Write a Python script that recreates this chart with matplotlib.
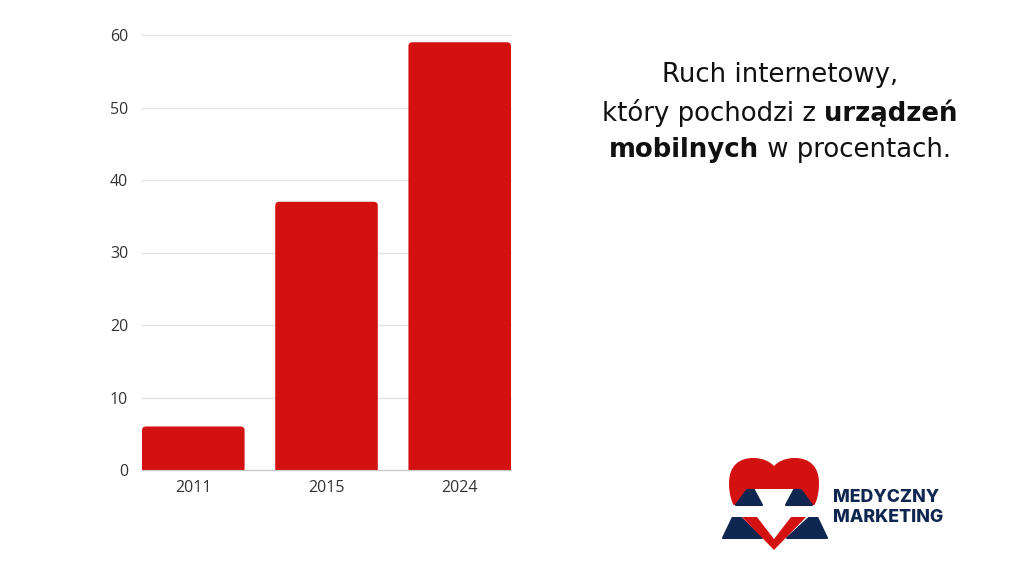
import matplotlib
matplotlib.use("Agg")
import matplotlib.pyplot as plt
from matplotlib.patches import FancyBboxPatch, PathPatch, Polygon, Rectangle
from matplotlib.path import Path
import matplotlib.transforms as mtransforms

# data
years = ["2011", "2015", "2024"]
share = [6, 37, 59]
yticks = [0, 10, 20, 30, 40, 50, 60]

RED = "#d31111"
NAVY = "#0f2650"

fig = plt.figure(figsize=(10.24, 5.76), dpi=100)
W, H = 1024, 576

ax = fig.add_axes([142 / W, 1 - 470 / H, (511 - 142) / W, (470 - 35) / H])
bw = 0.77
x = list(range(len(years)))
ax.set_xlim(-bw / 2, len(years) - 1 + bw / 2)
ax.set_ylim(0, 60)

# px per data unit, for rounded corners
px_x = (511 - 142) / (len(years) - 1 + bw)
px_y = (470 - 35) / 60
for xi, v in zip(x, share):
    p = FancyBboxPatch((xi - bw / 2, -2), bw, v + 2,
                       boxstyle="round,pad=0,rounding_size=%f" % (4 / px_x),
                       mutation_aspect=px_x / px_y,
                       fc=RED, ec="none", zorder=3)
    ax.add_patch(p)

ax.set_xticks(x)
ax.set_xticklabels(years)
ax.set_yticks(yticks)
ax.tick_params(length=0, labelsize=11.5, labelcolor="#333333")
ax.tick_params(axis="y", pad=10)
ax.tick_params(axis="x", pad=7)
for lab in ax.get_xticklabels() + ax.get_yticklabels():
    lab.set_family("Open Sans")
ax.grid(axis="y", color="#e3e3e3", lw=1)
ax.set_axisbelow(True)
for s in ["top", "right", "left"]:
    ax.spines[s].set_visible(False)
ax.spines["bottom"].set_color("#c8c8c8")
ax.spines["bottom"].set_zorder(4)
for gl in ax.get_ygridlines():
    gl.set_clip_on(False)

# heading with mixed weights
renderer = fig.canvas.get_renderer()
lines = [
    [("Ruch internetowy,", "normal")],
    [("który pochodzi z ", "normal"), ("urządzeń", "bold")],
    [("mobilnych", "bold"), (" w procentach.", "normal")],
]
cx = 780
ys = [75, 113, 150]
font = "DejaVu Sans"
fs = 18.7
for segs, yp in zip(lines, ys):
    texts = []
    for s, wgt in segs:
        t = fig.text(0, 1 - yp / H, s, fontsize=fs, fontweight=wgt, family=font,
                     color="#111111", va="center", ha="left")
        texts.append(t)
    widths = [t.get_window_extent(renderer).width for t in texts]
    total = sum(widths)
    xs = cx - total / 2
    for t, w in zip(texts, widths):
        t.set_x(xs / W)
        xs += w

# logo
tr = mtransforms.Affine2D().scale(1 / W, -1 / H).translate(0, 1) + fig.transFigure
# lower mountains, behind the heart
for pts in [[(723, 538), (762, 538), (740, 517), (733, 517)],
            [(787, 538), (827, 538), (817, 517), (810, 517)]]:
    fig.patches.append(Polygon(pts, closed=True, fc=NAVY, ec=NAVY, lw=1.5,
                               joinstyle="round", transform=tr))
verts = [(774, 550), (740, 515),
         (733, 507), (729, 497), (729, 483),
         (729, 466), (739, 458), (753, 458),
         (764, 458), (770, 462), (774, 466),
         (778, 462), (784, 458), (795, 458),
         (809, 458), (819, 466), (819, 483),
         (819, 497), (815, 507), (808, 515),
         (774, 550), (774, 550)]
codes = ([Path.MOVETO, Path.LINETO] + [Path.CURVE4] * 18
         + [Path.LINETO, Path.CLOSEPOLY])
fig.patches.append(PathPatch(Path(verts, codes), fc=RED, ec="none", transform=tr))
fig.patches.append(Rectangle((746, 489), 56, 16, fc="white", ec="none", transform=tr))
fig.patches.append(Rectangle((715, 505), 120, 12, fc="white", ec="none", transform=tr))
fig.patches.append(Polygon([(757, 517), (791, 517), (774, 539)], fc="white", ec="none", transform=tr))
for pts in [[(736, 505), (762, 505), (754, 490), (747, 490)],
            [(786, 505), (812, 505), (801, 490), (794, 490)]]:
    fig.patches.append(Polygon(pts, closed=True, fc=NAVY, ec=NAVY, lw=1.5,
                               joinstyle="round", transform=tr))

fig.text(833 / W, 1 - 497 / H, "MEDYCZNY", fontsize=12.8, fontweight="heavy",
         family="Inter", color=NAVY, va="center", ha="left")
fig.text(833 / W, 1 - 518 / H, "MARKETING", fontsize=12.8, fontweight="heavy",
         family="Inter", color=NAVY, va="center", ha="left")

fig.savefig("out.png", dpi=100, facecolor="white")
